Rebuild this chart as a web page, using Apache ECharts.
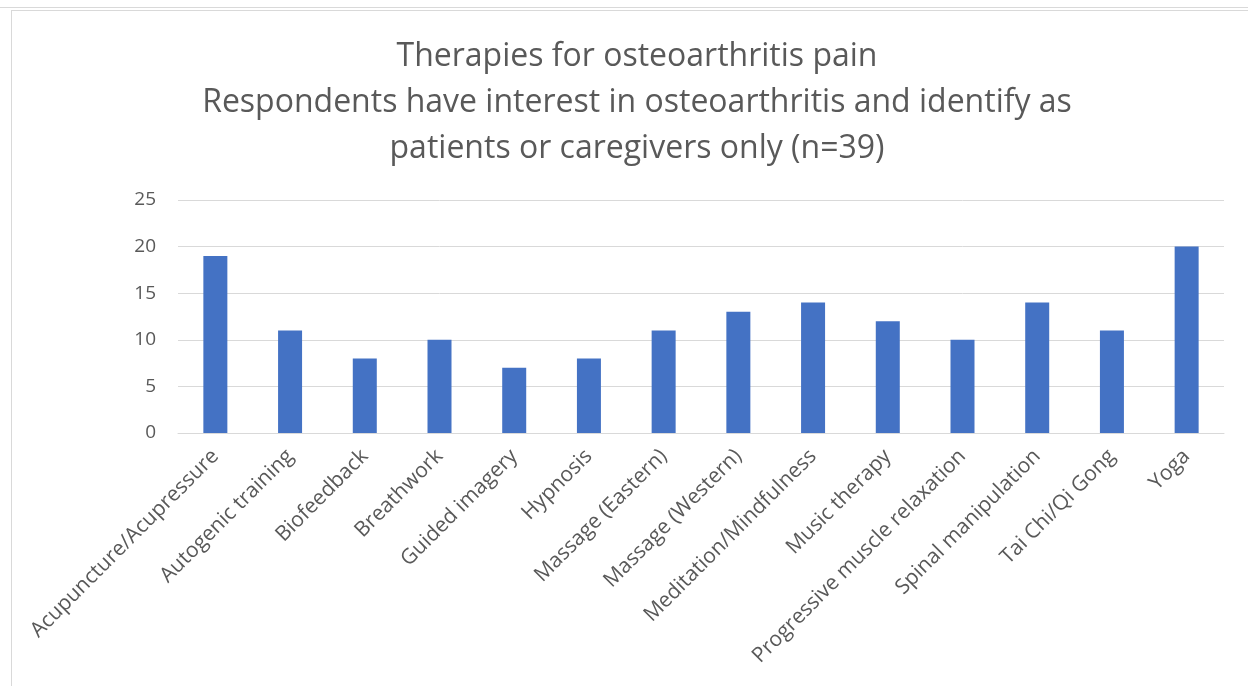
<!DOCTYPE html>
<html>
<head>
<meta charset="utf-8">
<script src="https://cdn.jsdelivr.net/npm/echarts@6/dist/echarts.min.js"></script>
<style>
html, body { margin: 0; padding: 0; background: #fff; }
.topline { position: absolute; left: 0; top: 7px; width: 1248px; height: 0; border-top: 1px solid #d9d9d9; }
.frame { position: absolute; left: 11px; top: 10px; width: 1248px; height: 690px; border-top: 1px solid #d9d9d9; border-left: 1px solid #d9d9d9; }
#chart { position: absolute; left: 0; top: 0; width: 1248px; height: 686px; }
</style>
</head>
<body>
<div class="topline"></div>
<div class="frame"></div>
<div id="chart"></div>
<script>
const categories = ['Acupuncture/Acupressure', 'Autogenic training', 'Biofeedback', 'Breathwork', 'Guided imagery', 'Hypnosis', 'Massage (Eastern)', 'Massage (Western)', 'Meditation/Mindfulness', 'Music therapy', 'Progressive muscle relaxation', 'Spinal manipulation', 'Tai Chi/Qi Gong', 'Yoga'];
const counts = [19, 11, 8, 10, 7, 8, 11, 13, 14, 12, 10, 14, 11, 20];
const titleLines = ['Therapies for osteoarthritis pain', 'Respondents have interest in osteoarthritis and identify as', 'patients or caregivers only (n=39)'];

const chart = echarts.init(document.getElementById('chart'));
chart.setOption({
    animation: false,
    title: {
        text: titleLines.join('\n'),
        left: 632,
        textAlign: 'center',
        top: 29,
        textStyle: {
            fontFamily: 'Open Sans',
            fontWeight: 'normal',
            fontSize: 32,
            lineHeight: 46,
            color: '#595959'
        }
    },
    grid: {
        left: 178,
        right: 24,
        top: 200,
        bottom: 253
    },
    xAxis: {
        type: 'category',
        data: categories,
        axisTick: { show: false },
        axisLine: { lineStyle: { color: '#d9d9d9', width: 1 } },
        axisLabel: {
            rotate: 45,
            interval: 0,
            margin: 20,
            fontFamily: 'Open Sans',
            fontSize: 21,
            color: '#595959'
        }
    },
    yAxis: {
        type: 'value',
        min: 0,
        max: 25,
        interval: 5,
        axisLine: { show: false },
        axisTick: { show: false },
        splitLine: { lineStyle: { color: '#d9d9d9', width: 1 } },
        axisLabel: {
            margin: 22,
            fontFamily: 'Open Sans',
            fontSize: 19,
            color: '#595959'
        }
    },
    series: [{
        type: 'bar',
        data: counts,
        barWidth: 24,
        itemStyle: { color: '#4472c4' }
    }]
});
</script>
</body>
</html>
